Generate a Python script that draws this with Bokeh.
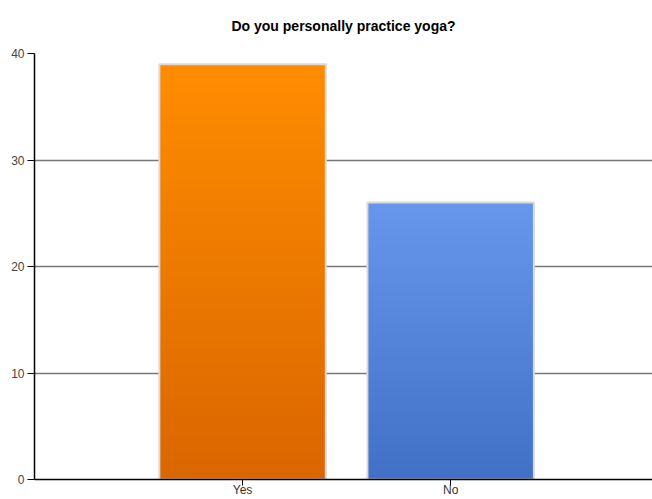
import numpy as np
from bokeh.plotting import figure
from bokeh.models import FixedTicker
from bokeh.embed import file_html
from bokeh.resources import INLINE

# Survey answers and counts
categories = ["Yes", "No"]
counts = [39, 26]
# Gradient colours per bar (top, bottom)
top_colors = ["#ff8c00", "#6797ec"]
bottom_colors = ["#da6600", "#4170c7"]
y_ticks = [0, 10, 20, 30, 40]

FONT = "Liberation Sans"


def hex_to_rgb(h):
    h = h.lstrip("#")
    return np.array([int(h[i:i + 2], 16) for i in (0, 2, 4)], dtype=float)


def gradient_image(bottom_hex, top_hex, rows=128):
    """Vertical gradient as a (rows x 1) RGBA image, row 0 at the bottom."""
    t = np.linspace(0, 1, rows)[:, None]
    rgb = hex_to_rgb(bottom_hex) * (1 - t) + hex_to_rgb(top_hex) * t
    rgba = np.zeros((rows, 1, 4), dtype=np.uint8)
    rgba[..., :3] = np.round(rgb)[:, None, :]
    rgba[..., 3] = 255
    return rgba.view(dtype=np.uint32).reshape(rows, 1)


p = figure(
    width=652, height=499,
    x_range=(0, 2.97), y_range=(0, 40),
    output_backend="svg", toolbar_location=None,
    min_border_left=34, min_border_right=0,
    min_border_top=0, min_border_bottom=0,
)

p.title.text = "Do you personally practice yoga?"
p.title.align = "center"
p.title.vertical_align = "top"
p.title.text_font = FONT
p.title.text_font_size = "14px"
p.title.text_font_style = "bold"
p.title.text_color = "#000000"
p.title.offset = -15
p.title.standoff = 35

p.outline_line_color = None
p.background_fill_color = "white"
p.border_fill_color = "white"

# Bars filled with a vertical gradient image
bar_w = 0.80
xs = [i + 1 for i in range(len(categories))]
for x, v, ct, cb in zip(xs, counts, top_colors, bottom_colors):
    p.image_rgba(image=[gradient_image(cb, ct)], x=x - bar_w / 2, y=0,
                 dw=bar_w, dh=v)

# Light outline around each bar
p.quad(left=[x - bar_w / 2 for x in xs], right=[x + bar_w / 2 for x in xs],
       bottom=0, top=counts, fill_color=None, line_color="#d9d9d9", line_width=2)

# Y axis
p.yaxis.ticker = FixedTicker(ticks=y_ticks)
p.yaxis.axis_line_color = "#000000"
p.yaxis.axis_line_width = 1.5
p.yaxis.major_tick_line_color = "#000000"
p.yaxis.major_tick_out = 7
p.yaxis.major_tick_in = 0
p.yaxis.minor_tick_line_color = None
p.yaxis.major_label_standoff = 3
p.yaxis.major_label_text_font = FONT
p.yaxis.major_label_text_font_size = "12px"
p.yaxis.major_label_text_color = "#444444"

# X axis with the category names
p.xaxis.ticker = FixedTicker(ticks=xs)
p.xaxis.major_label_overrides = {x: name for x, name in zip(xs, categories)}
p.xaxis.axis_line_color = "#000000"
p.xaxis.axis_line_width = 1.5
p.xaxis.major_tick_line_color = "#000000"
p.xaxis.major_tick_out = 6
p.xaxis.major_tick_in = 0
p.xaxis.minor_tick_line_color = None
p.xaxis.major_label_standoff = -3
p.xaxis.major_label_text_font = FONT
p.xaxis.major_label_text_font_size = "12px"
p.xaxis.major_label_text_color = "#333333"

# Grid
p.xgrid.grid_line_color = None
p.ygrid.ticker = FixedTicker(ticks=y_ticks[1:])
p.ygrid.grid_line_color = "#777777"
p.ygrid.grid_line_width = 1.5

open("out.html", "w").write(file_html(p, INLINE))
